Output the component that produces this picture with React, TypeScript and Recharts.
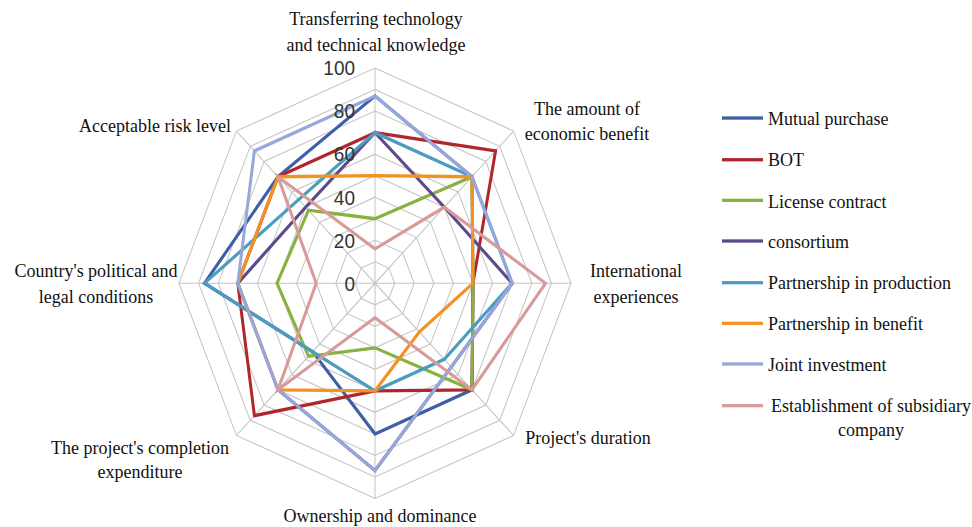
import React from 'react';
import { RadarChart, Radar, PolarGrid, PolarAngleAxis, PolarRadiusAxis, Legend } from 'recharts';

// ---------- data ----------
const categories = [
  "Transferring technology and technical knowledge",
  "The amount of economic benefit",
  "International experiences",
  "Project's duration",
  "Ownership and dominance",
  "The project's completion expenditure",
  "Country's political and legal conditions",
  "Acceptable risk level",
];
const categoryLines = [
  ["Transferring technology", "and technical knowledge"],
  ["The amount of", "economic benefit"],
  ["International", "experiences"],
  ["Project's duration"],
  ["Ownership and dominance"],
  ["The project's completion", "expenditure"],
  ["Country's political and", "legal conditions"],
  ["Acceptable risk level"],
];
const seriesNames = [
  "Mutual purchase",
  "BOT",
  "License contract",
  "consortium",
  "Partnership in production",
  "Partnership in benefit",
  "Joint investment",
  "Establishment of subsidiary company",
];
const mutualPurchase = [87, 70, 50, 70, 70, 45, 87, 70];
const bot = [70, 87, 50, 70, 50, 87, 70, 70];
const licenseContract = [30, 70, 50, 70, 30, 48, 50, 48];
const consortium = [70, 50, 70, 55, 87, 70, 70, 50];
const partnershipProduction = [70, 70, 70, 50, 50, 45, 87, 55];
const partnershipBenefit = [50, 70, 50, 32, 50, 70, 70, 70];
const jointInvestment = [87, 70, 70, 55, 87, 70, 70, 87];
const subsidiary = [16, 50, 87, 70, 16, 70, 30, 70];
const labeledTicks = [0, 20, 40, 60, 80, 100];

const seriesValues = [
  mutualPurchase, bot, licenseContract, consortium,
  partnershipProduction, partnershipBenefit, jointInvestment, subsidiary,
];
const seriesKeys = ['s0', 's1', 's2', 's3', 's4', 's5', 's6', 's7'];

const data = categories.map((c, i) => {
  const row: Record<string, any> = { axis: c };
  seriesKeys.forEach((k, j) => { row[k] = seriesValues[j][i]; });
  return row;
});

// ---------- style ----------
const colors = ['#3E5FA5', '#B0262C', '#86B23F', '#5E4A8B', '#4C9BC2', '#F39222', '#96A7DB', '#D99A9A'];
const SERIF = "'Liberation Serif', 'Times New Roman', serif";
const SCALE_Y = 527 / 480;
const labelPos = [
  { x: 376, y: [16.4, 40.1] },
  { x: 587, y: [98.4, 121.1] },
  { x: 636, y: [245.9, 269.6] },
  { x: 588, y: [398.0] },
  { x: 380, y: [469.1] },
  { x: 140, y: [407.1, 429.0] },
  { x: 96, y: [245.9, 269.6] },
  { x: 155, y: [113.9] },
];

const AngleTick = (props: any) => {
  const { payload } = props;
  const i = categories.indexOf(payload.value);
  if (i < 0) return <g />;
  const lines = categoryLines[i];
  const pos = labelPos[i];
  return (
    <g>
      {lines.map((l, k) => (
        <text key={k} x={pos.x} y={pos.y[k]} textAnchor="middle" dominantBaseline="central"
          style={{ fontFamily: SERIF }} fontSize={18} fill="#111">{l}</text>
      ))}
    </g>
  );
};

const RadiusTick = (props: any) => {
  const { x, y, payload } = props;
  if (!labeledTicks.includes(Number(payload.value))) return <g />;
  return (
    <text x={x - 20} y={y} textAnchor="end" dominantBaseline="central"
      style={{ fontFamily: "'Liberation Sans', Arial, sans-serif" }} fontSize={19} fill="#333">{payload.value}</text>
  );
};

const LegendContent = (props: any) => {
  const payload = [...(props.payload || [])].sort(
    (a: any, b: any) => seriesNames.indexOf(a.value) - seriesNames.indexOf(b.value)
  );
  return (
    <div style={{ position: 'relative', width: 972, height: 480 }}>
      {payload.map((entry: any, i: number) => {
        const c = 107.9 + i * 37.34;
        const multi = entry.value === seriesNames[7];
        return (
          <React.Fragment key={entry.value}>
            <div style={{ position: 'absolute', left: 722, top: c - 1.5, width: 41, height: 3, background: entry.color }} />
            <div style={{
              position: 'absolute', left: 768, top: c - 11, width: 206, lineHeight: '22px',
              fontSize: 18, fontFamily: SERIF, color: '#111',
              textAlign: multi ? 'center' : 'left', whiteSpace: multi ? 'normal' : 'nowrap',
            }}>{entry.value}</div>
          </React.Fragment>
        );
      })}
    </div>
  );
};

export default function App() {
  return (
    <div style={{ position: 'absolute', left: 0, top: 0, width: 972, height: 527, background: '#fff', overflow: 'hidden' }}>
      <div style={{ width: 972, height: 480, transform: `scaleY(${SCALE_Y})`, transformOrigin: '0 0' }}>
        <RadarChart width={972} height={480} data={data} cx={375} cy={258} outerRadius={196}
          margin={{ top: 0, right: 0, bottom: 0, left: 0 }}>
          <PolarGrid gridType="polygon" stroke="#C4C4C4" strokeWidth={1} />
          <PolarAngleAxis dataKey="axis" tick={<AngleTick />} axisLine={false} tickLine={false} />
          <PolarRadiusAxis angle={90} domain={[0, 100]} tickCount={11} axisLine={false} tickLine={false}
            tick={<RadiusTick />} />
          {seriesKeys.map((k, j) => (
            <Radar key={k} name={seriesNames[j]} dataKey={k} stroke={colors[j]} strokeWidth={3}
              fill="none" fillOpacity={0} dot={false} isAnimationActive={false} />
          ))}
          <Legend content={<LegendContent />} wrapperStyle={{ left: 0, top: 0, width: 972, height: 480 }} />
        </RadarChart>
      </div>
    </div>
  );
}
